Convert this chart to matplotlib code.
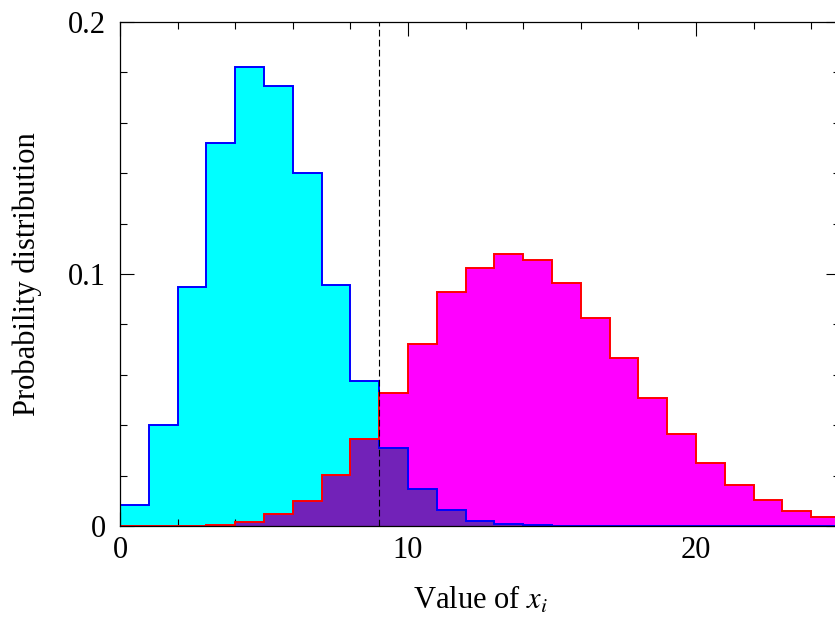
import numpy as np
import matplotlib
matplotlib.use("Agg")
import matplotlib.pyplot as plt
from matplotlib.ticker import MultipleLocator

plt.rcParams['font.family'] = ['Liberation Serif', 'DejaVu Serif']
plt.rcParams['mathtext.fontset'] = 'stix'

# bin edges (width 1) and heights
edges = np.arange(0, 26, 1)
cyan_vals = [0.0083, 0.040, 0.095, 0.152, 0.182, 0.1746, 0.140, 0.0956, 0.0575,
             0.0308, 0.0147, 0.0063, 0.0021, 0.0008, 0.0003, 0.0001, 0, 0, 0, 0,
             0, 0, 0, 0, 0]
mag_vals = [0, 0, 0, 0.0005, 0.0016, 0.0046, 0.010, 0.0201, 0.0344, 0.0527,
            0.0721, 0.0929, 0.1024, 0.1079, 0.1057, 0.0966, 0.0827, 0.0665,
            0.0507, 0.0366, 0.0251, 0.0163, 0.0103, 0.0061, 0.0036]
cut = 9

cyan_vals = np.array(cyan_vals)
mag_vals = np.array(mag_vals)
overlap = np.minimum(cyan_vals, mag_vals)

fig = plt.figure(figsize=(8.35, 6.2), dpi=100)
ax = fig.add_axes([120/835, 94/620, 720/835, 504/620])

ax.stairs(cyan_vals, edges, fill=True, color='#00ffff', zorder=1)
ax.stairs(mag_vals, edges, fill=True, color='#ff00ff', zorder=2)
ax.stairs(overlap, edges, fill=True, color='#7222b8', zorder=3)
ax.stairs(cyan_vals, edges, color='#0000ff', lw=1.4, zorder=4)
ax.stairs(mag_vals, edges, color='#ff0000', lw=1.4, zorder=4)
ax.axvline(cut, color='black', lw=0.8, ls=(0, (6, 3)), zorder=5)

ax.set_xlim(0, 25)
ax.set_ylim(0, 0.2)
ax.xaxis.set_major_locator(MultipleLocator(10))
ax.xaxis.set_minor_locator(MultipleLocator(2))
ax.yaxis.set_minor_locator(MultipleLocator(0.02))
ax.set_yticks([0, 0.1, 0.2])
ax.set_yticklabels(['0', '0.1', '0.2'])
ax.tick_params(which='both', direction='in', top=True, right=True,
               labelsize=22, width=0.8, zorder=6)
ax.tick_params(which='major', length=10)
ax.tick_params(which='minor', length=5)
ax.tick_params(axis='x', which='major', pad=7)
ax.tick_params(axis='y', which='major', pad=10)
for s in ax.spines.values():
    s.set_linewidth(0.9)
    s.set_zorder(6)

ax.set_xlabel('Value of $x_i$', fontsize=22, labelpad=14)
ax.set_ylabel('Probability distribution', fontsize=22, labelpad=19)

fig.savefig('out.png', dpi=100)
